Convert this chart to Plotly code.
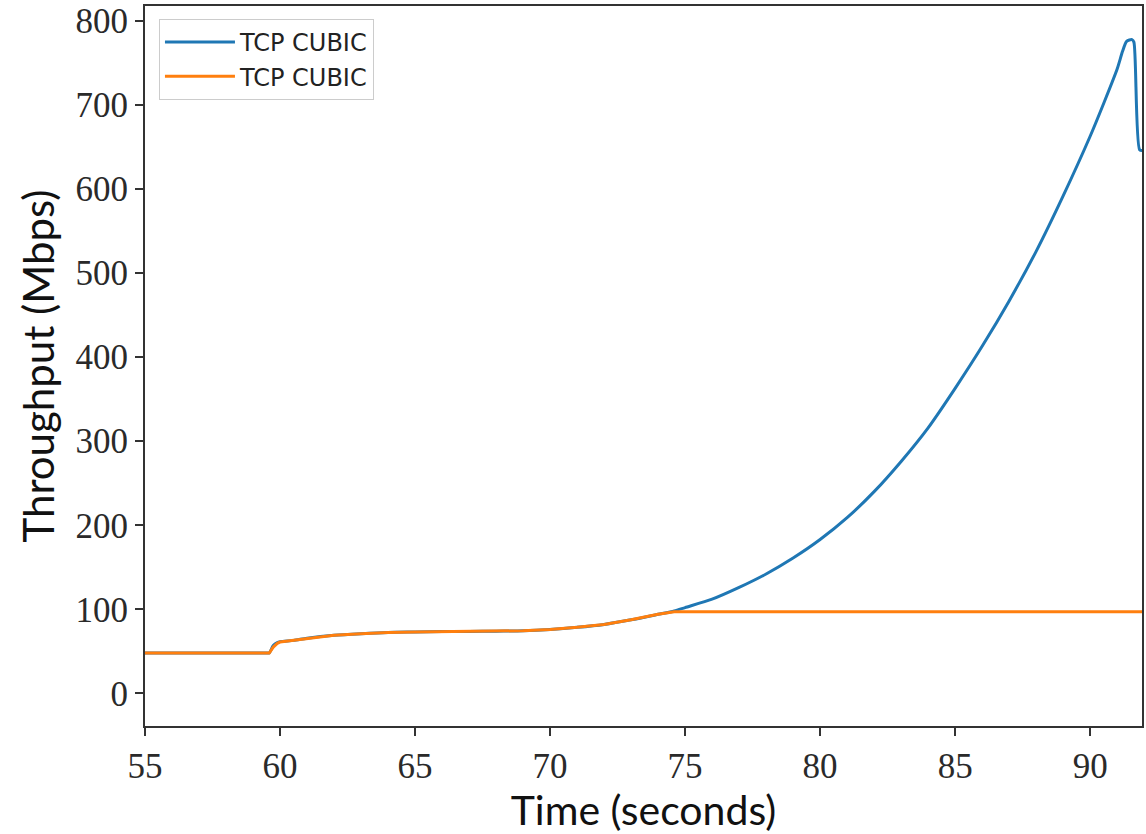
import plotly.graph_objects as go

# Time (s) and throughput (Mbps)
time_blue = [55, 59.5, 59.6, 59.75, 59.9, 60.0, 60.5, 61, 62, 63, 64, 65, 66, 67, 68, 69, 70,
             71, 72, 73, 74, 74.6, 75, 76, 77, 78, 79, 80, 81, 82, 83, 84, 85, 86, 87,
             88, 89, 90, 90.5, 91, 91.2, 91.35, 91.55, 91.62, 91.83, 91.95]
tput_blue = [48, 48, 48, 57, 60.5, 61.5, 63, 65.5, 69, 71, 72.5, 73, 73.5, 73.5, 74, 74.5, 76,
             78.5, 82, 87.5, 94, 98, 102, 112, 126, 142, 161, 183, 209, 240, 276, 316,
             363, 413, 467, 526, 592, 663, 702, 743, 764, 776, 778, 775, 647, 646]

time_orange = [55, 59.6, 59.75, 59.9, 60.0, 60.5, 61, 62, 63, 64, 65, 66, 67, 68, 69, 70,
               71, 72, 73, 74, 74.6, 91.95]
tput_orange = [48, 48, 55, 59.5, 61, 63, 65.5, 69, 71, 72.5, 73, 73.5, 73.5, 74, 74.5, 76,
               78.5, 82, 87.5, 94, 97, 97]

series_names = ["TCP CUBIC", "TCP CUBIC"]
x_ticks = [55, 60, 65, 70, 75, 80, 85, 90]
y_ticks = [0, 100, 200, 300, 400, 500, 600, 700, 800]

fig = go.Figure()
fig.add_trace(go.Scatter(x=time_blue, y=tput_blue, mode="lines", name=series_names[0],
                         line=dict(color="#1f77b4", width=3, shape="spline", smoothing=0.7)))
fig.add_trace(go.Scatter(x=time_orange, y=tput_orange, mode="lines", name=series_names[1],
                         line=dict(color="#ff7f0e", width=3)))

axis_common = dict(showgrid=False, zeroline=False, showline=True, linecolor="#333333",
                   linewidth=2, mirror=True, ticks="outside", ticklen=8, tickwidth=1.5,
                   tickcolor="#333333",
                   tickfont=dict(family="Liberation Serif", size=35, color="#2a2a2a"))

fig.update_layout(
    width=1146, height=834,
    paper_bgcolor="white", plot_bgcolor="white",
    margin=dict(l=145, r=2, t=5, b=108),
    xaxis=dict(range=[55, 91.92], tickvals=x_ticks,
               title=dict(text="Time (seconds)", standoff=4,
                          font=dict(family="Lato", size=41, color="#111111")),
               **axis_common),
    yaxis=dict(range=[-38.9, 818], tickvals=y_ticks,
               title=dict(text="Throughput (Mbps)", standoff=8,
                          font=dict(family="Lato", size=42, color="#111111")),
               **axis_common),
    legend=dict(x=0.014, y=0.982, xanchor="left", yanchor="top",
                bgcolor="rgba(255,255,255,0.8)", bordercolor="#cccccc", borderwidth=1,
                font=dict(family="DejaVu Sans", size=24, color="#222222"),
                itemwidth=70, tracegroupgap=4),
    showlegend=True,
)

fig.write_html("out.html", config={"displayModeBar": False},
               post_script="document.body.style.margin='0';document.body.style.padding='0';")
